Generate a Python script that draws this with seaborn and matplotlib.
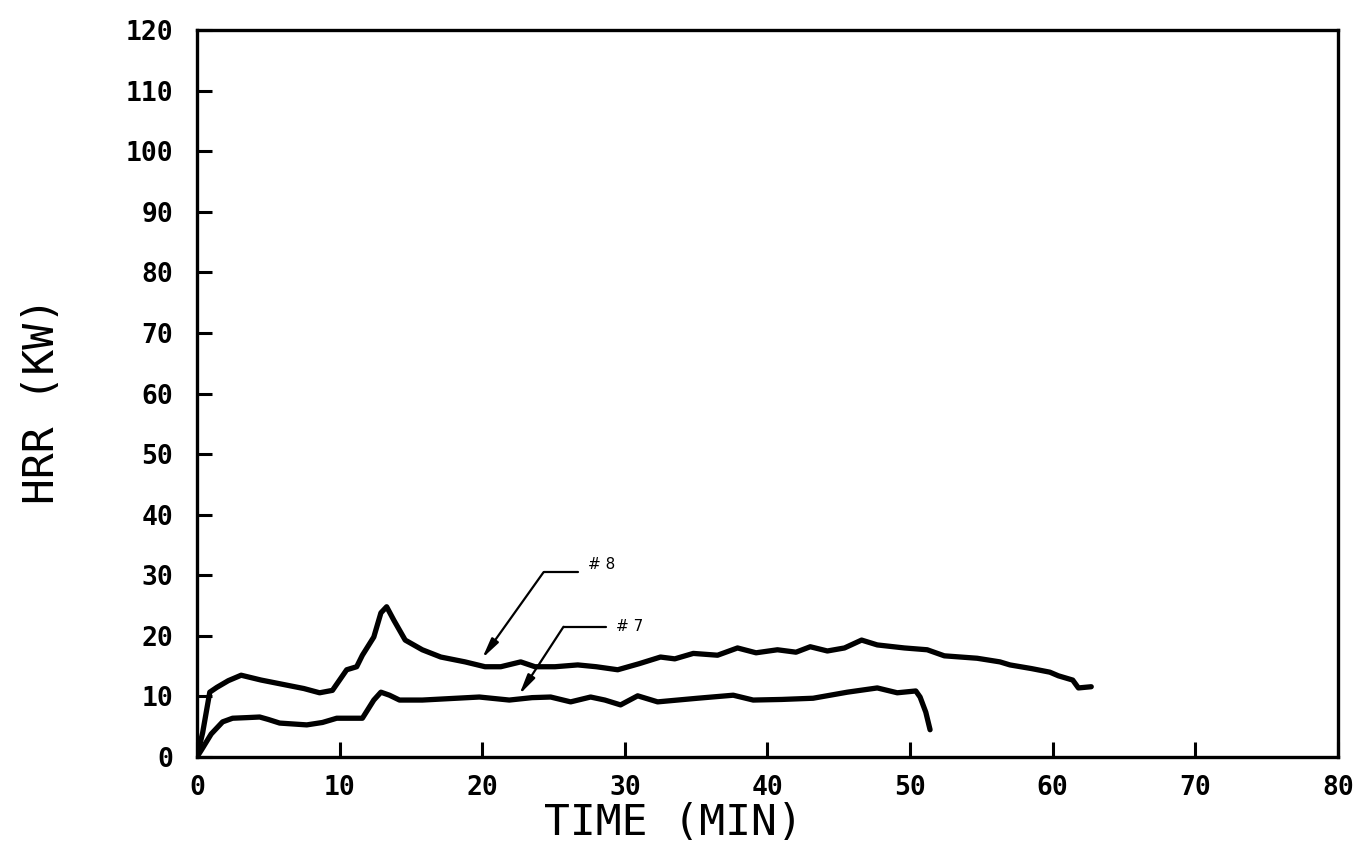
import matplotlib
matplotlib.use('Agg')

import numpy as np
import pandas as pd
import seaborn as sns
import matplotlib.pyplot as plt

# Test #8 heat release rate (min, kW)
t8 = [0.0, 0.4, 0.9, 1.4, 2.2, 3.1, 4.5, 6.0, 7.5, 8.6, 9.5, 10.5, 11.2, 11.6,
      12.4, 12.9, 13.3, 13.8, 14.6, 15.8, 17.1, 18.8, 20.2, 21.3, 22.7, 23.7,
      25.1, 26.7, 28.0, 29.5, 31.0, 32.5, 33.5, 34.8, 36.5, 37.9, 39.2, 40.7,
      42.0, 43.0, 44.2, 45.4, 46.6, 47.7, 49.6, 51.2, 52.4, 54.7, 56.3, 57.0,
      58.5, 59.8, 60.4, 61.4, 61.8, 62.7]
hrr8 = [0.0, 4.0, 10.7, 11.5, 12.6, 13.5, 12.7, 12.0, 11.3, 10.6, 11.0, 14.4,
        14.9, 16.8, 19.8, 23.8, 24.8, 22.6, 19.3, 17.7, 16.5, 15.7, 14.9, 14.9,
        15.7, 14.9, 14.9, 15.2, 14.9, 14.4, 15.4, 16.5, 16.2, 17.1, 16.8, 18.0,
        17.2, 17.7, 17.3, 18.2, 17.5, 18.0, 19.3, 18.5, 18.0, 17.7, 16.7, 16.3,
        15.7, 15.2, 14.6, 14.0, 13.4, 12.7, 11.4, 11.6]

# Test #7 heat release rate (min, kW)
t7 = [0.0, 0.3, 1.0, 1.8, 2.5, 3.5, 4.4, 5.0, 5.8, 7.7, 8.8, 9.8, 11.0, 11.6,
      12.4, 12.9, 13.5, 14.2, 15.8, 18.2, 19.8, 21.9, 23.5, 24.8, 26.2, 27.6,
      28.6, 29.7, 30.9, 32.3, 35.1, 37.6, 39.0, 41.0, 43.2, 45.6, 47.7, 49.1,
      50.4, 50.7, 51.1, 51.4]
hrr7 = [0.0, 1.1, 3.8, 5.8, 6.4, 6.5, 6.6, 6.2, 5.6, 5.3, 5.7, 6.4, 6.4, 6.4,
        9.4, 10.7, 10.2, 9.4, 9.4, 9.7, 9.9, 9.4, 9.8, 9.9, 9.1, 9.9, 9.4,
        8.6, 10.1, 9.1, 9.7, 10.2, 9.4, 9.5, 9.7, 10.7, 11.4, 10.6, 10.9, 9.9,
        7.4, 4.5]

x_ticks = list(range(0, 81, 10))
y_ticks = list(range(0, 121, 10))

# annotation labels: text, text pos, bend of leader, arrow tip
notes = [
    ("# 8", (27.4, 31.7), (24.3, 30.5), (20.0, 16.3)),
    ("# 7", (29.4, 21.5), (25.7, 21.5), (22.6, 10.3)),
]

df = pd.concat([
    pd.DataFrame({"time": t8, "hrr": hrr8, "test": "#8"}),
    pd.DataFrame({"time": t7, "hrr": hrr7, "test": "#7"}),
])

sns.set_style("white")
plt.rcParams['font.family'] = ['DejaVu Sans Mono', 'DejaVu Sans']
plt.rcParams['text.color'] = 'black'
plt.rcParams['axes.labelcolor'] = 'black'
plt.rcParams['xtick.color'] = 'black'
plt.rcParams['ytick.color'] = 'black'

fig = plt.figure(figsize=(13.61, 8.46), dpi=100)
ax = fig.add_axes([0.1447, 0.1052, 0.9831 - 0.1447, 0.9645 - 0.1052])

sns.lineplot(data=df, x="time", y="hrr", units="test", estimator=None,
             color="black", linewidth=3.8, sort=False, ax=ax, legend=False)

for label, txt_pos, bend, tip in notes:
    ax.plot([bend[0], txt_pos[0] - 0.7], [bend[1], bend[1]], color="black", lw=1.6)
    ax.annotate("", xy=tip, xytext=bend,
                arrowprops=dict(arrowstyle="-|>,head_length=1.2,head_width=0.25",
                                color="black", lw=1.6, shrinkA=0, shrinkB=0))
    ax.text(txt_pos[0], txt_pos[1], label, fontsize=11,
            va="center", ha="left", family="DejaVu Sans")

ax.set_xlim(0, 80)
ax.set_ylim(0, 120)
ax.set_xticks(x_ticks)
ax.set_yticks(y_ticks)
ax.set_xticklabels([str(v) for v in x_ticks], fontsize=19, fontweight="bold")
ax.set_yticklabels([str(v) for v in y_ticks], fontsize=19, fontweight="bold")
ax.tick_params(axis="x", direction="in", length=11, width=2.2, pad=13, bottom=True)
ax.tick_params(axis="y", direction="in", length=11, width=2.2, pad=17, left=True)

for s in ax.spines.values():
    s.set_linewidth(2.4)
    s.set_color("black")

ax.set_xlabel("TIME (MIN)", fontsize=31)
ax.xaxis.set_label_coords((673 - 197) / (1338 - 197), -0.062)
ax.set_ylabel("HRR (KW)", fontsize=31)
ax.yaxis.set_label_coords(-0.117, 0.49)

fig.savefig("out.png", dpi=100)
plt.close()
